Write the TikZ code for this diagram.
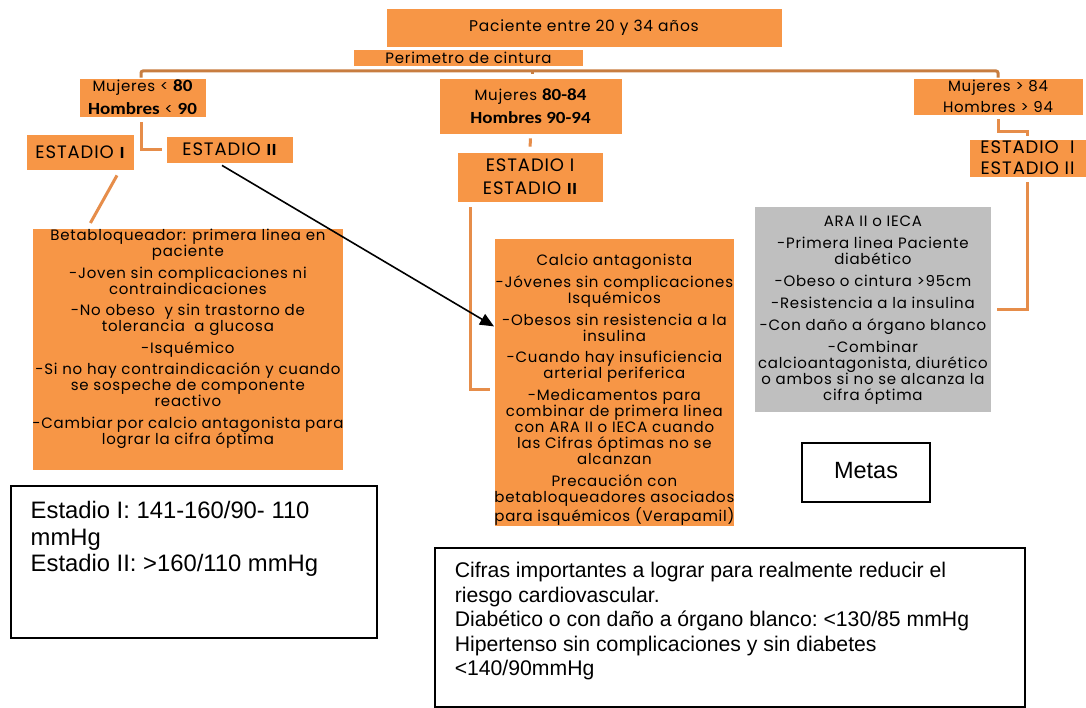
\documentclass[tikz,border=0pt]{standalone}
\usepackage{fontspec}
\setmainfont{Poppins}[LetterSpace=5]
\newfontfamily\calb{Carlito}[FakeStretch=1.12]
\newfontfamily\arial{Liberation Sans}
\usetikzlibrary{arrows.meta}
\definecolor{ofill}{RGB}{247,150,70}
\definecolor{oline}{RGB}{230,141,74}
\definecolor{bline}{RGB}{200,125,64}
\definecolor{gfill}{RGB}{191,191,191}
\newcommand\bb[1]{{\calb\bfseries\fontsize{17}{16}\selectfont #1}}
\begin{document}
\begin{tikzpicture}[x=1pt,y=-1pt,
  obox/.style={fill=ofill, draw=white, line width=0.8pt, inner sep=0pt, align=center, font=\fontsize{15}{16}\selectfont},
  gbox/.style={fill=gfill, draw=white, line width=0.8pt, inner sep=0pt},
  conn/.style={draw=oline, line width=3pt},
  topconn/.style={draw=bline, line width=3pt, rounded corners=2pt},
  wbox/.style={draw=black, line width=1.5pt, fill=white, inner sep=0pt},
  arr/.style={draw=black, line width=1.6pt, -{Triangle[length=14pt,width=12pt]}},
  estfont/.style={font=\fontsize{18}{21}\selectfont}
]
\useasboundingbox[fill=white] (0,0) rectangle (1086,708);

% top
\node[obox, minimum width=396pt, minimum height=39pt, font=\fontsize{15.5}{18}\selectfont] (pac) at (584,27.5) {Paciente entre 20 y 34 años};
\coordinate (bus) at (584,71);
\node[obox, minimum width=127pt, minimum height=39pt] (m1) at (142.5,97.5) {Mujeres < \bb{80}\\[7pt]\bb{Hombres} < \bb{90}};
\node[obox, minimum width=183pt, minimum height=56pt] (m2) at (530.5,106) {Mujeres \bb{80-84}\\[7pt]\bb{Hombres 90-94}};
\node[obox, minimum width=170pt, minimum height=37pt] (m3) at (998,96.5) {Mujeres > 84\\[5pt]Hombres > 94};
\draw[topconn] ([xshift=-1.5pt]m1.north) -- ([xshift=-1.5pt]m1.north |- bus) -- (m3.north |- bus) -- (m3.north);
\draw[draw=bline, line width=3pt] ([xshift=1.5pt]m2.north |- bus) -- ([xshift=1.5pt,yshift=4pt]m2.north);
\node[obox, draw=white, line width=2pt, minimum width=231pt, minimum height=18pt] (per) at (468.5,58) {Perimetro de cintura};

% left branch
\node[obox, estfont, minimum width=108pt, minimum height=36pt] (e1) at (80,152) {ESTADIO \bb{I}};
\node[obox, estfont, minimum width=127pt, minimum height=27pt] (e2) at (229.5,149.5) {\raisebox{1.5pt}{ESTADIO \bb{II}}};
\draw[conn] ([xshift=-1.5pt,yshift=-5pt]m1.south) |- ([xshift=-4pt]e2.west);

\node[obox, anchor=north west] (beta) at (32,228) {\parbox[t][242pt][t]{311pt}{\centering\vspace*{1pt}
Betabloqueador: primera linea en\\ paciente\\[5.5pt]
-Joven sin complicaciones ni\\ contraindicaciones\\[5.5pt]
-No obeso \ y sin trastorno de\\ tolerancia \ a glucosa\\[5.5pt]
-Isquémico\\[5.5pt]
-Si no hay contraindicación y cuando\\ se sospeche de componente\\ reactivo\\[5.5pt]
-Cambiar por calcio antagonista para\\ lograr la cifra óptima\par}};
\draw[conn] ([xshift=37pt,yshift=-5pt]e1.south) -- ([xshift=-97.5pt,yshift=5pt]beta.north);

% middle branch
\node[obox, estfont, minimum width=146pt, minimum height=50pt] (e12) at (530,177) {ESTADIO I\\[2pt]ESTADIO \bb{II}};
\draw[conn, shorten <=4pt, shorten >=5pt] (m2.south) -- (e12.north);

\node[obox, anchor=north west] (calc) at (494,238) {\parbox[t][288pt][t]{240pt}{\centering\vspace*{16pt}
Calcio antagonista\\[6pt]
-Jóvenes sin complicaciones\\ Isquémicos\\[6pt]
-Obesos sin resistencia a la\\ insulina\\[5pt]
-Cuando hay insuficiencia\\ arterial periferica\\[6pt]
-Medicamentos para\\ combinar de primera linea\\ con ARA II o IECA cuando\\ las Cifras óptimas no se\\ alcanzan\\[6pt]
Precaución con\\ betabloqueadores asociados\\ para isquémicos (Verapamil)\par}};
\draw[conn] ([xshift=14pt,yshift=-5pt]e12.south west) |- ([xshift=-4pt,yshift=-7pt]calc.west);

% right branch
\node[obox, estfont, minimum width=117pt, minimum height=38pt] (e3) at (1027.5,158) {ESTADIO \ I\\[0pt]ESTADIO II};
\draw[conn] ([yshift=-4pt]m3.south) -- ++(0,12) -| ([yshift=3pt]e3.north);

\node[gbox, anchor=north west] (ara) at (754,206) {\parbox[t][206pt][t]{237pt}{\centering\fontsize{15}{16}\selectfont\vspace*{10pt}
ARA II o IECA\\[6pt]
-Primera linea Paciente\\ diabético\\[6pt]
-Obeso o cintura >95cm\\[6pt]
-Resistencia a la insulina\\[6pt]
-Con daño a órgano blanco\\[6pt]
-Combinar\\ calcioantagonista, diurético\\ o ambos si no se alcanza la\\ cifra óptima\par}};
\draw[conn] ([yshift=-5pt]e3.south) |- ([xshift=5pt]ara.east);

% arrow
\draw[arr] ([xshift=-7.5pt,yshift=-2pt]e2.south) -- ([yshift=56pt]calc.west);

% bottom boxes
\node[wbox, minimum width=128pt, minimum height=59pt, font=\arial\fontsize{23.5}{27}\selectfont] (metas) at (866,472.5) {\raisebox{4pt}{Metas}};

\node[wbox, anchor=north west] (est) at (10,485) {\parbox[t][152pt][t]{366pt}{\arial\fontsize{23.8}{26.7}\selectfont\frenchspacing\raggedright\leftskip=20pt\vspace*{15.5pt}
Estadio I: 141-160/90- 110\\
mmHg\\
Estadio II: >160/110 mmHg\par}};

\node[wbox, anchor=north west] (cif) at (434,547) {\parbox[t][159pt][t]{590pt}{\arial\fontsize{21.2}{24.5}\selectfont\frenchspacing\raggedright\leftskip=20pt\vspace*{14.5pt}
Cifras importantes a lograr para realmente reducir el\\
riesgo cardiovascular.\\
Diabético o con daño a órgano blanco: <130/85 mmHg\\
Hipertenso sin complicaciones y sin diabetes\\
<140/90mmHg\par}};
\end{tikzpicture}
\end{document}
